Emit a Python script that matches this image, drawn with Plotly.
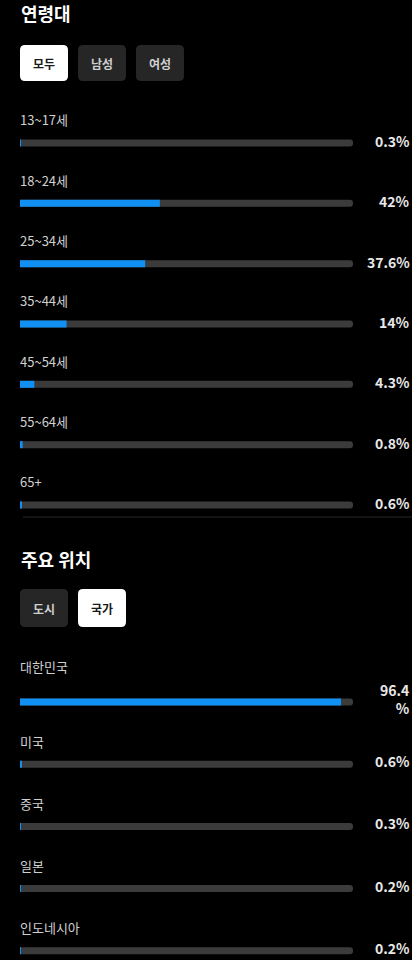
import plotly.graph_objects as go

# ---------------- data ----------------
age_groups = ["13~17세", "18~24세", "25~34세", "35~44세", "45~54세", "55~64세", "65+"]
age_share = [0.3, 42, 37.6, 14, 4.3, 0.8, 0.6]
age_value_labels = ["0.3%", "42%", "37.6%", "14%", "4.3%", "0.8%", "0.6%"]

countries = ["대한민국", "미국", "중국", "일본", "인도네시아"]
country_share = [96.4, 0.6, 0.3, 0.2, 0.2]
country_value_labels = ["96.4<br>%", "0.6%", "0.3%", "0.2%", "0.2%"]

age_title = "연령대"
location_title = "주요 위치"
age_filters = ["모두", "남성", "여성"]
age_selected = 0
location_filters = ["도시", "국가"]
location_selected = 1
scale_max = 100

# ---------------- style ----------------
W, H = 412, 960
BG = "#000000"
TRACK = "#3b3b3b"
BLUE = "#1090f2"
LABEL_C = "#d0d0d0"
VALUE_C = "#e8e8e8"
FONT = "Noto Sans CJK KR, Noto Sans, sans-serif"


def px(x):
    return x / W


def py(y):
    return 1 - y / H


# age rows: centres every ~60.33 px starting at 143 px
age_step = 60.33
age_top = 143 - age_step / 2
age_bottom = age_top + age_step * len(age_groups)
# country rows: centres every ~62.2 px starting at 702 px
c_step = 62.2
c_first = 702
c_top = c_first - c_step / 2
c_range_bottom = (H - c_first) / c_step

bar_px = 7

fig = go.Figure()

fig.add_trace(go.Bar(x=[scale_max] * len(age_groups), y=age_groups, orientation="h",
                     marker=dict(color=TRACK, cornerradius="50%", line=dict(width=0)),
                     width=bar_px / age_step, xaxis="x", yaxis="y",
                     hoverinfo="skip", showlegend=False))
fig.add_trace(go.Bar(x=age_share, y=age_groups, orientation="h",
                     marker=dict(color=BLUE, cornerradius="50%", line=dict(width=0)),
                     width=bar_px / age_step, xaxis="x", yaxis="y",
                     hoverinfo="skip", showlegend=False))
fig.add_trace(go.Bar(x=[scale_max] * len(countries), y=countries, orientation="h",
                     marker=dict(color=TRACK, cornerradius="50%", line=dict(width=0)),
                     width=bar_px / c_step, xaxis="x", yaxis="y2",
                     hoverinfo="skip", showlegend=False))
fig.add_trace(go.Bar(x=country_share, y=countries, orientation="h",
                     marker=dict(color=BLUE, cornerradius="50%", line=dict(width=0)),
                     width=bar_px / c_step, xaxis="x", yaxis="y2",
                     hoverinfo="skip", showlegend=False))

annotations = []
shapes = []

# section titles
annotations.append(dict(x=px(19), y=py(13), xref="paper", yref="paper", text=age_title,
                        xanchor="left", yanchor="middle", showarrow=False,
                        font=dict(family=FONT, size=18, color="#ffffff", weight=700)))
annotations.append(dict(x=px(19), y=py(559), xref="paper", yref="paper", text=location_title,
                        xanchor="left", yanchor="middle", showarrow=False,
                        font=dict(family=FONT, size=18, color="#ffffff", weight=700)))


def rounded_rect(x0, y0, x1, y1, r):
    # pixel coords -> paper path
    pts = [
        ("M", x0 + r, y0), ("L", x1 - r, y0), ("Q", x1, y0, x1, y0 + r),
        ("L", x1, y1 - r), ("Q", x1, y1, x1 - r, y1), ("L", x0 + r, y1),
        ("Q", x0, y1, x0, y1 - r), ("L", x0, y0 + r), ("Q", x0, y0, x0 + r, y0),
    ]
    out = []
    for p in pts:
        cmd = p[0]
        coords = p[1:]
        s = cmd
        for i in range(0, len(coords), 2):
            s += f" {px(coords[i]):.5f},{py(coords[i+1]):.5f}"
        out.append(s)
    return " ".join(out) + " Z"


def add_buttons(labels, selected, y0, y1):
    x = 20
    bw = 48
    gap = 10
    for i, lab in enumerate(labels):
        sel = i == selected
        shapes.append(dict(type="path", xref="paper", yref="paper",
                           path=rounded_rect(x, y0, x + bw, y1, 5),
                           fillcolor="#ffffff" if sel else "#262626",
                           line=dict(width=0), layer="below"))
        annotations.append(dict(x=px(x + bw / 2), y=py((y0 + y1) / 2), xref="paper", yref="paper",
                                text=lab, showarrow=False, xanchor="center", yanchor="middle",
                                font=dict(family=FONT, size=12,
                                          color="#1a1a1a" if sel else "#cfcfcf", weight=700)))
        x += bw + gap


add_buttons(age_filters, age_selected, 45, 81)
add_buttons(location_filters, location_selected, 589, 627)

# row labels and values
for cat, vlab in zip(age_groups, age_value_labels):
    annotations.append(dict(x=0, y=cat, xref="x", yref="y", text=cat, xanchor="left",
                            yanchor="middle", yshift=23, xshift=-2, showarrow=False,
                            font=dict(family=FONT, size=13, color=LABEL_C)))
    annotations.append(dict(x=1, y=cat, xref="paper", yref="y", text=vlab, xanchor="right",
                            yanchor="middle", yshift=2, showarrow=False, align="right",
                            font=dict(family=FONT, size=14, color=VALUE_C, weight=700)))

for cat, vlab in zip(countries, country_value_labels):
    extra = 13 * vlab.count("<br>")
    annotations.append(dict(x=0, y=cat, xref="x", yref="y2", text=cat, xanchor="left",
                            yanchor="middle", yshift=23 + extra, xshift=-2, showarrow=False,
                            font=dict(family=FONT, size=13, color=LABEL_C)))
    annotations.append(dict(x=1, y=cat, xref="paper", yref="y2", text=vlab, xanchor="right",
                            yanchor="middle", yshift=3, showarrow=False, align="right",
                            font=dict(family=FONT, size=14, color=VALUE_C, weight=700)))

# divider between sections
shapes.append(dict(type="line", xref="paper", yref="paper", x0=px(23), x1=1,
                   y0=py(517), y1=py(517), line=dict(color="#262626", width=1)))

fig.update_layout(
    width=W, height=H,
    margin=dict(l=0, r=0, t=0, b=0),
    paper_bgcolor=BG, plot_bgcolor=BG,
    barmode="overlay",
    showlegend=False,
    xaxis=dict(domain=[px(20), px(353)], range=[0, scale_max], visible=False, fixedrange=True),
    yaxis=dict(domain=[py(age_bottom), py(age_top)], range=[len(age_groups) - 0.5, -0.5],
               type="category", categoryorder="array", categoryarray=age_groups,
               visible=False, fixedrange=True),
    yaxis2=dict(domain=[0, py(c_top)], range=[c_range_bottom, -0.5], anchor="x",
                type="category", categoryorder="array", categoryarray=countries,
                visible=False, fixedrange=True),
    annotations=annotations,
    shapes=shapes,
)

fig.write_html(
    "out.html",
    config={"displayModeBar": False},
    post_script="document.body.style.margin='0';document.body.style.padding='0';"
                "document.body.style.overflow='hidden';document.body.style.background='#000';",
)
